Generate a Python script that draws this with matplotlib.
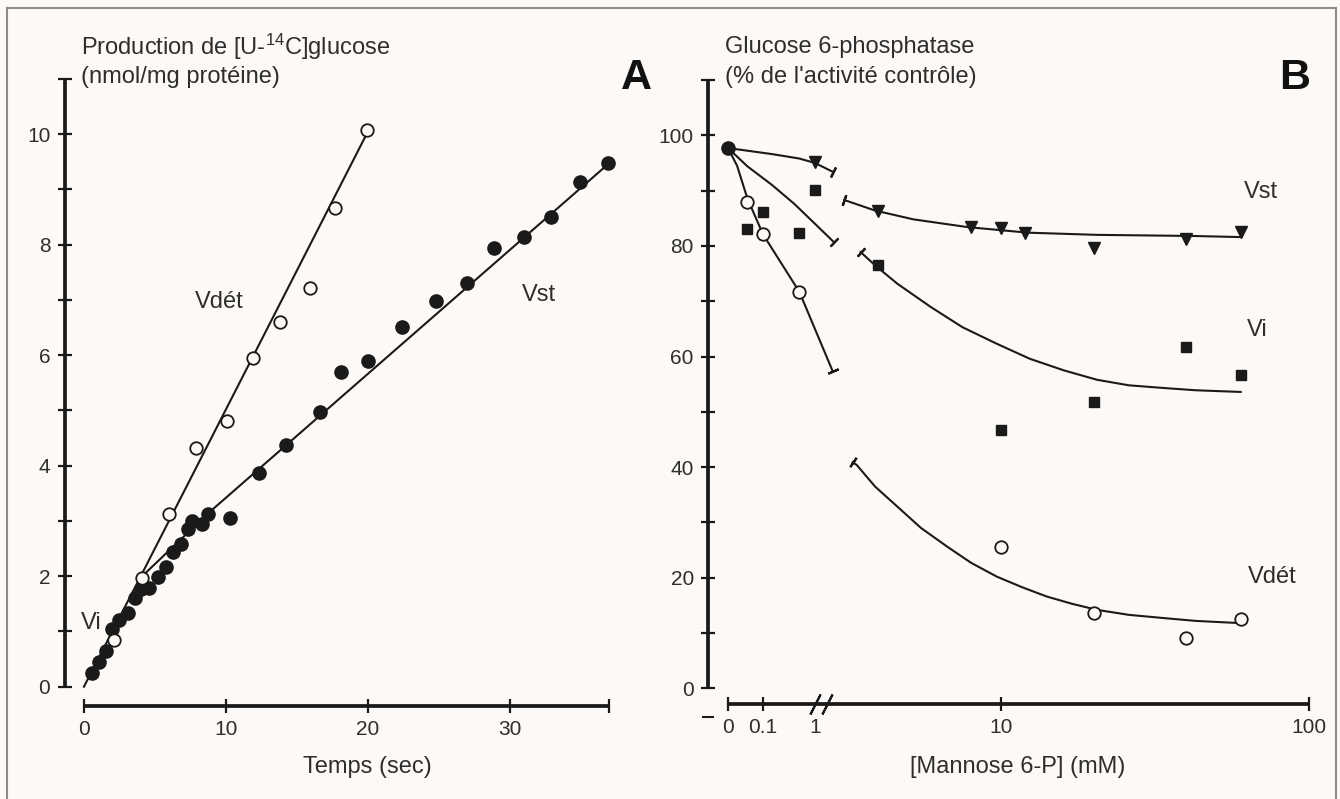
import numpy as np
import matplotlib
matplotlib.use('Agg')
import matplotlib.pyplot as plt
from matplotlib.lines import Line2D
from matplotlib.ticker import FixedLocator, NullLocator

plt.rcParams['font.family'] = ['Liberation Sans', 'DejaVu Sans']
plt.rcParams['mathtext.fontset'] = 'custom'
plt.rcParams['mathtext.rm'] = 'Liberation Sans'
plt.rcParams['mathtext.default'] = 'regular'

BG = '#fcf9f6'
INK = '#1a1a1a'
TXT = '#2e2e2e'

# ---- panel A : production de glucose en fonction du temps
vdet_t = [2.1, 4.1, 6.0, 7.9, 10.1, 11.9, 13.8, 15.9, 17.7, 19.9]
vdet_y = [0.85, 1.96, 3.13, 4.31, 4.80, 5.94, 6.60, 7.21, 8.66, 10.07]

vst_t = [0.56, 1.05, 1.54, 1.96, 2.5, 3.1, 3.57, 4.0, 4.56, 5.2, 5.8, 6.3,
         6.8, 7.3, 7.6, 8.3, 8.76, 10.3, 12.3, 14.2, 16.6, 18.1, 20.0, 22.4,
         24.8, 27.0, 28.9, 31.0, 32.9, 34.9, 36.9]
vst_y = [0.25, 0.45, 0.65, 1.05, 1.20, 1.34, 1.61, 1.76, 1.79, 1.98, 2.16, 2.44,
         2.59, 2.86, 2.99, 2.95, 3.12, 3.05, 3.86, 4.38, 4.97, 5.69, 5.89, 6.50,
         6.97, 7.30, 7.93, 8.13, 8.50, 9.13, 9.47]

# droites tracées
vi_fit_t = [0, 3.9]
vi_fit_y = [0, 1.95]
vdet_fit_t = [3.9, 20.1]
vdet_fit_y = [1.95, 10.1]
vst_fit_t = [3.9, 8.8, 37.1]
vst_fit_y = [1.95, 3.15, 9.5]

a_xticks = [0, 10, 20, 30]
a_yticks = [0, 2, 4, 6, 8, 10]
a_yminor = [1, 3, 5, 7, 9, 11]

# ---- panel B : glucose 6-phosphatase vs mannose 6-P
ctrl_x = [0]
ctrl_y = [97.7]
b_vdet_x = [0.05, 0.1, 0.5, 10, 20, 40, 60]
b_vdet_y = [87.9, 82.1, 71.6, 25.5, 13.6, 9.1, 12.5]
b_vi_x = [0.05, 0.1, 0.5, 1, 4, 10, 20, 40, 60]
b_vi_y = [83.0, 86.1, 82.3, 90.2, 76.5, 46.8, 51.7, 61.7, 56.6]
b_vst_x = [1, 4, 8, 10, 12, 20, 40, 60]
b_vst_y = [95.2, 86.3, 83.5, 83.2, 82.3, 79.6, 81.2, 82.5]

# courbes (avant / après la coupure de l'axe)
vst_left_x = [0, 0.15, 0.5, 1.0, 2.2]
vst_left_y = [97.7, 96.6, 95.8, 95.0, 93.4]
vi_left_x = [0, 0.05, 0.15, 0.4, 1.0, 2.3]
vi_left_y = [97.7, 94.4, 91.0, 87.6, 84.0, 80.7]
vdet_left_x = [0, 0.03, 0.05, 0.1, 0.5, 2.2]
vdet_left_y = [97.7, 94.5, 88.6, 82.1, 71.7, 57.3]

vst_right_x = [3.1, 3.9, 5.2, 7.8, 12.2, 20.5, 42, 60]
vst_right_y = [88.3, 86.4, 84.8, 83.4, 82.4, 82.0, 81.8, 81.6]
vi_right_x = [3.5, 3.9, 4.6, 5.9, 7.5, 9.7, 12.4, 16, 20.5, 26, 34, 43, 60]
vi_right_y = [78.9, 76.5, 73.2, 69.0, 65.3, 62.3, 59.6, 57.5, 55.8, 54.8, 54.3,
              53.9, 53.6]
vdet_right_x = [3.3, 3.4, 3.9, 4.6, 5.5, 6.7, 8.0, 9.7, 11.7, 14.1, 17, 20.5,
                26, 34, 43, 60]
vdet_right_y = [40.9, 40.4, 36.5, 32.9, 29.0, 25.6, 22.7, 20.2, 18.3, 16.6, 15.3,
                14.2, 13.3, 12.7, 12.2, 11.8]

b_xticks = [0, 0.1, 1, 10, 100]
b_xlabels = ['0', '0.1', '1', '10', '100']
b_yticks = [0, 20, 40, 60, 80, 100]
b_yminor = [10, 30, 50, 70, 90, 110]

# échelle brisée de l'axe B (unités ~ pixels)
U_LIN = 10.0
L_OFF, L_DEC = 87.0, 52.0
R_OFF, R_DEC = 273.0, 308.0
X0 = 10 ** ((U_LIN - L_OFF) / L_DEC)
LB = (R_OFF - R_DEC - L_OFF) / (L_DEC - R_DEC)
UB = L_OFF + L_DEC * LB


def conc_to_u(x):
    x = np.asarray(x, dtype=float)
    lg = np.log10(np.maximum(x, 1e-9))
    u = np.where(lg < LB, L_OFF + L_DEC * lg, R_OFF + R_DEC * (lg - 1))
    return np.where(x < X0, x * U_LIN / X0, u)


def u_to_conc(u):
    u = np.asarray(u, dtype=float)
    with np.errstate(over='ignore'):
        x = np.where(u < UB, 10 ** ((u - L_OFF) / L_DEC),
                     10 ** ((u - R_OFF) / R_DEC + 1))
    return np.where(u < U_LIN, u * X0 / U_LIN, x)


W, H = 1340, 799
FS = 17


def px(x, y):
    return x / W, 1 - y / H


def style_axes(ax):
    ax.set_facecolor('none')
    for s in ('top', 'right'):
        ax.spines[s].set_visible(False)
    for s in ('left', 'bottom'):
        ax.spines[s].set_linewidth(2.7)
        ax.spines[s].set_color(INK)
        ax.spines[s].set_capstyle('butt')
    ax.tick_params(which='both', direction='inout', length=10.5, width=1.6,
                   color=INK, labelsize=15, labelcolor=TXT, pad=5)


fig = plt.figure(figsize=(W / 100, H / 100), dpi=100, facecolor=BG)

# ---------------- panel A
axA = fig.add_axes([64.5 / W, (H - 705.7) / H, (618 - 64.5) / W, (705.7 - 78.8) / H])
style_axes(axA)
axA.set_xlim(-1.37, 37.6)
axA.set_ylim(-0.345, 11)
axA.spines['left'].set_bounds(0, 11)
axA.spines['bottom'].set_bounds(0, 37)
axA.xaxis.set_major_locator(FixedLocator(a_xticks))
axA.xaxis.set_minor_locator(FixedLocator([37]))
axA.yaxis.set_major_locator(FixedLocator(a_yticks))
axA.yaxis.set_minor_locator(FixedLocator(a_yminor))

axA.plot(vi_fit_t, vi_fit_y, color=INK, lw=1.5, zorder=2)
axA.plot(vdet_fit_t, vdet_fit_y, color=INK, lw=1.5, zorder=2)
axA.plot(vst_fit_t, vst_fit_y, color=INK, lw=1.5, zorder=2)
axA.plot(vst_t, vst_y, 'o', ms=9.5, color=INK, mec=INK, zorder=3)
axA.plot(vdet_t, vdet_y, 'o', ms=9, mfc=BG, mec=INK, mew=1.3, zorder=4)

axA.text(9.5, 6.96, 'Vdét', fontsize=FS, color=TXT, ha='center', va='center')
axA.text(32.0, 7.08, 'Vst', fontsize=FS, color=TXT, ha='center', va='center')
axA.text(0.5, 1.16, 'Vi', fontsize=FS, color=TXT, ha='center', va='center')

fig.text(*px(81, 47), 'Production de [U-$^{14}$C]glucose', fontsize=FS, color=TXT,
         ha='left', va='center')
fig.text(*px(81, 77), '(nmol/mg protéine)', fontsize=FS, color=TXT, ha='left', va='center')
fig.text(*px(367, 767), 'Temps (sec)', fontsize=FS, color=TXT, ha='center', va='center')
fig.text(*px(636, 78), 'A', fontsize=31, fontweight='bold', color='#111111',
         ha='center', va='center')

# ---------------- panel B
axB = fig.add_axes([708 / W, (H - 704) / H, 610 / W, (704 - 80) / H])
style_axes(axB)
axB.set_xscale('function', functions=(conc_to_u, u_to_conc))
axB.set_xlim(float(u_to_conc(-20)), float(u_to_conc(590)))
axB.set_ylim(-2.82, 110)
axB.spines['left'].set_bounds(0, 110)
axB.spines['bottom'].set_bounds(0, 100)
axB.xaxis.set_major_locator(FixedLocator(b_xticks))
axB.xaxis.set_minor_locator(NullLocator())
axB.set_xticklabels(b_xlabels)
axB.yaxis.set_major_locator(FixedLocator(b_yticks))
axB.yaxis.set_minor_locator(FixedLocator(b_yminor))
for tk, lab in zip(axB.xaxis.get_major_ticks(), b_xlabels):
    if lab == '1':
        tk.tick1line.set_visible(False)

segments = [
    (vst_left_x, vst_left_y, True), (vi_left_x, vi_left_y, True),
    (vdet_left_x, vdet_left_y, True),
    (vst_right_x, vst_right_y, False), (vi_right_x, vi_right_y, False),
    (vdet_right_x, vdet_right_y, False),
]
for xs, ys, cap_at_end in segments:
    axB.plot(xs, ys, color=INK, lw=1.5, zorder=2, solid_joinstyle='round')

axB.plot(b_vst_x, b_vst_y, 'v', ms=8.5, color=INK, zorder=3)
axB.plot(b_vi_x, b_vi_y, 's', ms=7, color=INK, zorder=3)
axB.plot(b_vdet_x, b_vdet_y, 'o', ms=9, mfc=BG, mec=INK, mew=1.3, zorder=4)
axB.plot(ctrl_x, ctrl_y, 'o', ms=9.5, color=INK, zorder=5, clip_on=False)

# barres perpendiculaires aux extrémités des courbes (coupure)
for xs, ys, cap_at_end in segments:
    pts = axB.transData.transform(np.column_stack([xs, ys]))
    if cap_at_end:
        a, b, i = pts[-2], pts[-1], -1
    else:
        a, b, i = pts[0], pts[1], 0
    ang = np.degrees(np.arctan2(b[1] - a[1], b[0] - a[0]))
    axB.plot([xs[i]], [ys[i]], ls='none', marker=(2, 2, ang), ms=8, mew=1.6,
             color=INK, zorder=3)

# coupure de l'axe des x
y0 = axB.get_ylim()[0]
axB.plot([1, 1.7], [y0, y0], ls='none', marker=(2, 2, -27), ms=16, mew=1.5,
         color=INK, clip_on=False, zorder=6)
axB.plot([axB.get_xlim()[0]], [-5.2], ls='none', marker='_', ms=9, mew=1.5,
         color=INK, clip_on=False)

axB.text(70, 89.7, 'Vst', fontsize=FS, color=TXT, ha='center', va='center')
axB.text(68, 64.8, 'Vi', fontsize=FS, color=TXT, ha='center', va='center')
axB.text(76, 20.1, 'Vdét', fontsize=FS, color=TXT, ha='center', va='center')

fig.text(*px(725, 47), 'Glucose 6-phosphatase', fontsize=FS, color=TXT,
         ha='left', va='center')
fig.text(*px(725, 77), "(% de l'activité contrôle)", fontsize=FS, color=TXT,
         ha='left', va='center')
fig.text(*px(1018, 767), '[Mannose 6-P] (mM)', fontsize=FS, color=TXT,
         ha='center', va='center')
fig.text(*px(1295, 78), 'B', fontsize=31, fontweight='bold', color='#111111',
         ha='center', va='center')

# cadre gris
for xs, ys in (([7, 1336], [8, 8]), ([7, 7], [8, 799]), ([1336, 1336], [8, 799])):
    fx = [x / W for x in xs]
    fy = [1 - y / H for y in ys]
    fig.add_artist(Line2D(fx, fy, color='#8c8c8c', lw=1.5))

fig.savefig('out.png', dpi=100, facecolor=BG)
